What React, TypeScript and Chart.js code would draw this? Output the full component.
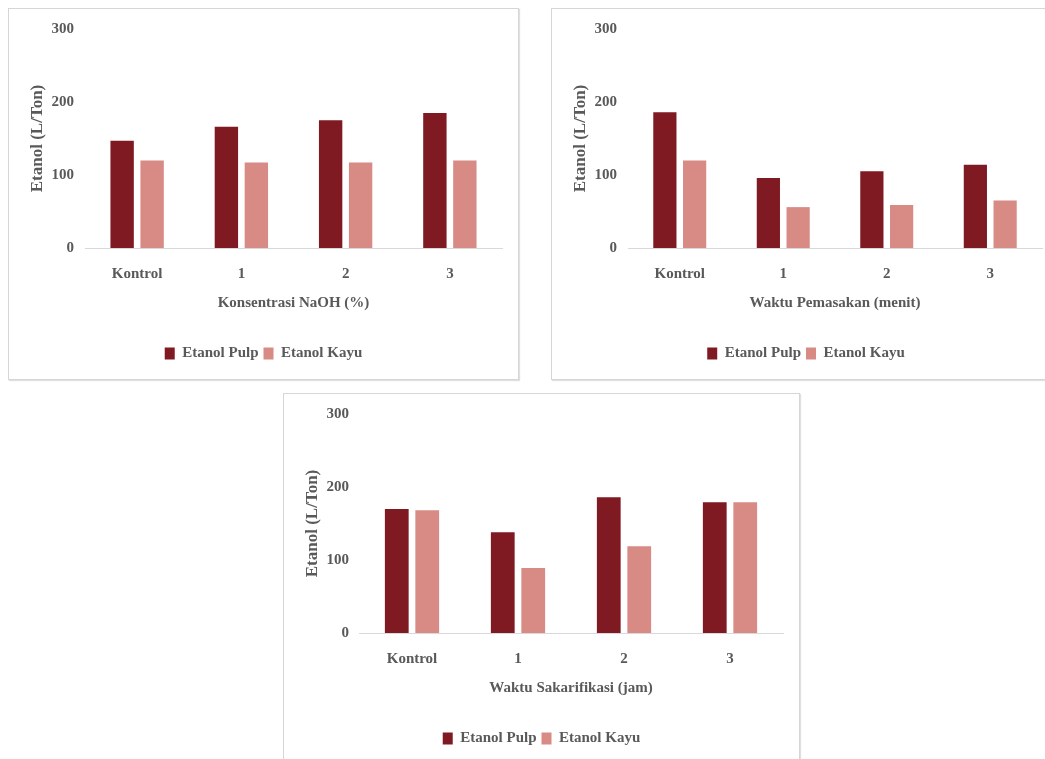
import React, { useEffect, useRef } from "react";
import { Chart, registerables } from "chart.js";

Chart.register(...registerables);

const categories = ["Kontrol", "1", "2", "3"];
const seriesNames = ["Etanol Pulp", "Etanol Kayu"];
const yMin = 0;
const yMax = 300;
const yStep = 100;
const yTitle = "Etanol (L/Ton)";

const naohPulp = [147, 166, 175, 185];
const naohKayu = [120, 117, 117, 120];
const masakPulp = [186, 96, 105, 114];
const masakKayu = [120, 56, 59, 65];
const sakarPulp = [170, 138, 186, 179];
const sakarKayu = [168, 89, 119, 179];

const xTitleNaoh = "Konsentrasi NaOH (%)";
const xTitleMasak = "Waktu Pemasakan (menit)";
const xTitleSakar = "Waktu Sakarifikasi (jam)";

const PULP_COLOR = "#7f1a22";
const KAYU_COLOR = "#d88a85";
const TEXT_COLOR = "#595959";
const FONT_FAMILY = "'Liberation Serif', 'Times New Roman', serif";

type PanelProps = {
  left: number;
  top: number;
  width: number;
  height: number;
  xTitle: string;
  pulp: number[];
  kayu: number[];
  yWidth: number;
  rightPad: number;
  tickPad: number;
};

function ChartPanel(props: PanelProps) {
  const ref = useRef<HTMLCanvasElement | null>(null);
  const { left, top, width, height, xTitle, pulp, kayu, yWidth, rightPad, tickPad } = props;
  const cw = width - 2;
  const ch = height - 2;

  useEffect(() => {
    if (!ref.current) return;
    const chart = new Chart(ref.current, {
      type: "bar",
      data: {
        labels: categories,
        datasets: [
          {
            label: seriesNames[0],
            data: pulp,
            backgroundColor: PULP_COLOR,
            borderWidth: 0,
            categoryPercentage: 0.575,
            barPercentage: 0.78,
            yAxisID: "y",
          },
          {
            label: seriesNames[1],
            data: kayu,
            backgroundColor: KAYU_COLOR,
            borderWidth: 0,
            categoryPercentage: 0.575,
            barPercentage: 0.78,
            yAxisID: "y",
          },
        ],
      },
      options: {
        responsive: false,
        animation: false,
        devicePixelRatio: 1,
        layout: { padding: { top: 20, left: 0, right: 0, bottom: 8 } },
        plugins: {
          legend: {
            position: "bottom",
            labels: {
              boxWidth: 10,
              boxHeight: 12,
              padding: 5,
              color: TEXT_COLOR,
              font: { family: FONT_FAMILY, size: 15, weight: "bold" },
            },
          },
          tooltip: { enabled: false },
        },
        scales: {
          x: {
            grid: { display: false, drawTicks: false },
            border: { display: true, color: "#d9d9d9", width: 1 },
            ticks: {
              padding: 17,
              color: TEXT_COLOR,
              font: { family: FONT_FAMILY, size: 15, weight: "bold" },
            },
            title: {
              display: true,
              text: xTitle,
              color: TEXT_COLOR,
              padding: { top: 0, bottom: 29 },
              font: { family: FONT_FAMILY, size: 15, weight: "bold" },
            },
            afterFit: (scale: any) => {
              scale.height = 93;
            },
          },
          y: {
            position: "left",
            min: yMin,
            max: yMax,
            grid: { display: false, drawTicks: false },
            border: { display: false },
            ticks: {
              stepSize: yStep,
              padding: tickPad,
              color: TEXT_COLOR,
              font: { family: FONT_FAMILY, size: 15, weight: "bold" },
            },
            title: {
              display: true,
              text: yTitle,
              color: TEXT_COLOR,
              padding: { top: 18, bottom: 0 },
              font: { family: FONT_FAMILY, size: 17, weight: "bold" },
            },
            afterFit: (scale: any) => {
              scale.width = yWidth;
            },
          },
          yRight: {
            position: "right",
            display: true,
            grid: { display: false, drawTicks: false },
            border: { display: false },
            ticks: { display: false },
            afterFit: (scale: any) => {
              scale.width = rightPad;
            },
          },
        },
      },
    } as any);
    return () => chart.destroy();
  }, []);

  return (
    <div
      style={{
        position: "absolute",
        left,
        top,
        width,
        height,
        boxSizing: "border-box",
        border: "1px solid #d6d6d6",
        boxShadow: "1px 1px 1px rgba(0,0,0,0.12)",
        background: "#ffffff",
      }}
    >
      <canvas
        ref={ref}
        width={cw}
        height={ch}
        style={{ position: "absolute", left: 0, top: 0, width: cw, height: ch, display: "block" }}
      />
    </div>
  );
}

export default function App() {
  return (
    <div
      style={{
        position: "fixed",
        left: 0,
        top: 0,
        width: 1045,
        height: 759,
        overflow: "hidden",
        background: "#ffffff",
      }}
    >
      <ChartPanel left={8} top={8} width={511} height={372} xTitle={xTitleNaoh} pulp={naohPulp} kayu={naohKayu} yWidth={76} rightPad={16} tickPad={11} />
      <ChartPanel left={551} top={8} width={510} height={372} xTitle={xTitleMasak} pulp={masakPulp} kayu={masakKayu} yWidth={76} rightPad={18} tickPad={11} />
      <ChartPanel left={283} top={393} width={517} height={372} xTitle={xTitleSakar} pulp={sakarPulp} kayu={sakarKayu} yWidth={75} rightPad={16} tickPad={10} />
    </div>
  );
}
